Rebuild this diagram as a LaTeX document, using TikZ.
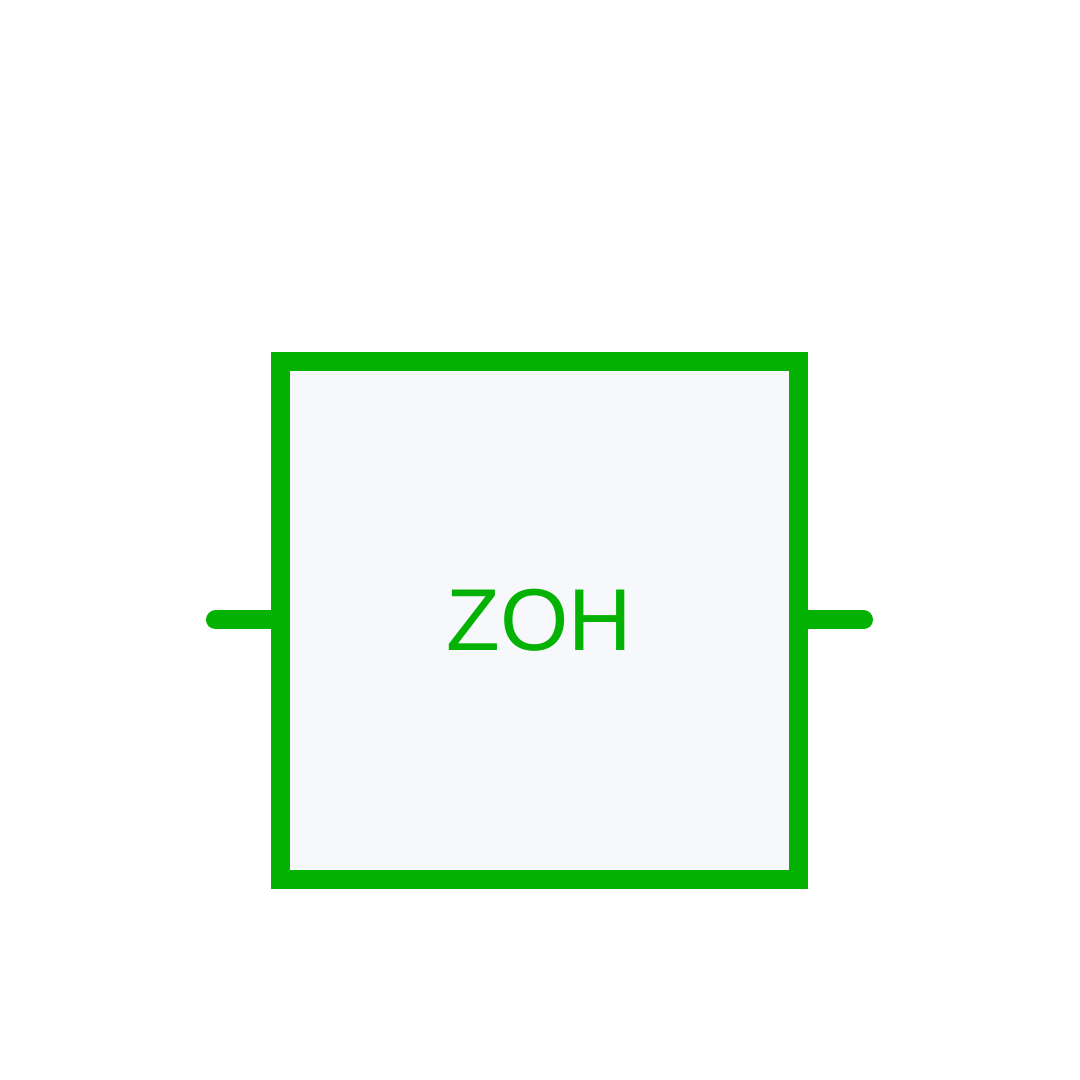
\documentclass[tikz,border=0pt]{standalone}
\usepackage{fontspec}
\setmainfont{Liberation Sans}
\definecolor{zohgreen}{RGB}{4,178,4}
\definecolor{zohfill}{RGB}{247,248,252}

\begin{document}
\begin{tikzpicture}
    \useasboundingbox (0,0) rectangle (10.8,10.8);
    \node[draw=zohgreen,fill=zohfill,line width=0.19cm,minimum width=5.18cm,minimum height=5.18cm,inner sep=0pt,text=zohgreen,font=\fontsize{25}{30}\selectfont] (zoh) at (5.395,4.595) {ZOH};
    \coordinate (in) at (2.155,4.6);
    \coordinate (out) at (8.635,4.6);
    \draw[zohgreen,line width=0.19cm,line cap=round] (in) -- (in -| zoh.west);
    \draw[zohgreen,line width=0.19cm,line cap=round] (out -| zoh.east) -- (out);
\end{tikzpicture}
\end{document}
